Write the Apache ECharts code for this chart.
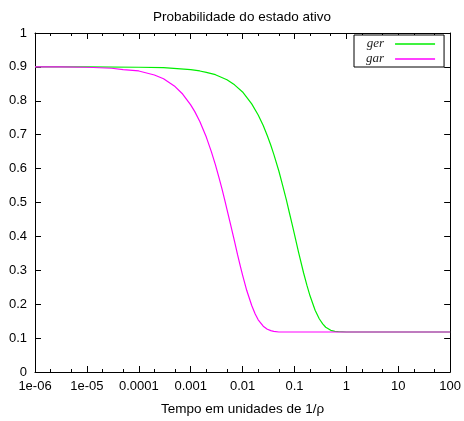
<!DOCTYPE html>
<html>
<head>
<meta charset="utf-8">
<script src="https://cdn.jsdelivr.net/npm/echarts@6/dist/echarts.min.js"></script>
<style>html,body{margin:0;padding:0;background:#fff}#c{width:464px;height:421px}</style>
</head>
<body>
<div id="c"></div>
<script>
// ---- data ----
const titleText = 'Probabilidade do estado ativo';
const xName = 'Tempo em unidades de 1/ρ';
const xTickValues = [1e-6, 1e-5, 1e-4, 1e-3, 1e-2, 1e-1, 1, 10, 100];
const xTickLabels = ['1e-06', '1e-05', '0.0001', '0.001', '0.01', '0.1', '1', '10', '100'];
const xMinorTicks = [2e-6, 5e-6, 2e-5, 5e-5, 2e-4, 5e-4, 2e-3, 5e-3, 2e-2, 5e-2, 0.2, 0.5, 2, 5, 20, 50];

const gerName = 'ger';
const gerT = [1e-6, 1e-5, 1e-4, 3e-4, 1e-3, 1.5e-3, 2e-3, 3e-3, 5e-3, 7e-3, 0.01, 0.015, 0.02, 0.025, 0.03, 0.035, 0.04, 0.05, 0.06, 0.07, 0.08, 0.09, 0.1, 0.12, 0.15, 0.175, 0.2, 0.25, 0.3, 0.35, 0.4, 0.5, 0.6, 0.7, 1, 10, 100];
const gerP = [0.900, 0.900, 0.899, 0.898, 0.892, 0.888, 0.884, 0.877, 0.862, 0.847, 0.826, 0.791, 0.758, 0.727, 0.697, 0.669, 0.642, 0.593, 0.547, 0.507, 0.469, 0.436, 0.406, 0.353, 0.292, 0.254, 0.224, 0.182, 0.157, 0.142, 0.132, 0.123, 0.120, 0.119, 0.118, 0.118, 0.118];

const garName = 'gar';
const garT = [1e-6, 3e-6, 1e-5, 3e-5, 5e-5, 1e-4, 2e-4, 3e-4, 5e-4, 7e-4, 1e-3, 1.2e-3, 1.5e-3, 2e-3, 2.5e-3, 3e-3, 3.5e-3, 4e-3, 4.5e-3, 5e-3, 6e-3, 7e-3, 8e-3, 9e-3, 0.01, 0.012, 0.015, 0.0175, 0.02, 0.025, 0.03, 0.035, 0.04, 0.05, 0.1, 1, 10, 100];
const garP = [0.900, 0.900, 0.899, 0.896, 0.892, 0.888, 0.876, 0.865, 0.842, 0.820, 0.788, 0.768, 0.739, 0.693, 0.650, 0.611, 0.574, 0.541, 0.509, 0.480, 0.429, 0.385, 0.346, 0.314, 0.286, 0.241, 0.196, 0.171, 0.154, 0.135, 0.126, 0.122, 0.120, 0.118, 0.118, 0.118, 0.118, 0.118];

// ---- chart ----
const font = 'Liberation Sans, Arial, sans-serif';
const pairs = (t, p) => t.map((v, i) => [v, p[i]]);
const labelFor = v => {
  const e = Math.round(Math.log10(v));
  const i = xTickValues.findIndex(x => Math.round(Math.log10(x)) === e);
  return i >= 0 ? xTickLabels[i] : '';
};

const baseX = {
  type: 'log', logBase: 10, min: 1e-6, max: 100,
  splitLine: {show: false}, minorTick: {show: false}
};
const chart = echarts.init(document.getElementById('c'), null, {renderer: 'canvas'});
chart.setOption({
  animation: false,
  backgroundColor: '#fff',
  title: {
    text: titleText, left: 237, top: 5, textAlign: 'center',
    textStyle: {fontFamily: font, fontSize: 13.5, fontWeight: 'normal', color: '#000'}
  },
  legend: {
    left: 354, top: 35, orient: 'vertical', align: 'right',
    backgroundColor: '#fff',
    borderColor: '#000', borderWidth: 1, borderRadius: 0,
    padding: [2, 9, 1, 12], itemGap: 1,
    itemWidth: 40, itemHeight: 1.5, icon: 'rect',
    textStyle: {fontFamily: 'Liberation Serif, DejaVu Serif, serif', fontStyle: 'italic', fontSize: 13, color: '#222', lineHeight: 14, padding: [0, 6, 0, 0]},
    data: [gerName, garName]
  },
  grid: {left: 35, right: 13, top: 33, bottom: 46, containLabel: false},
  xAxis: [
    Object.assign({}, baseX, {
      position: 'bottom', name: xName, nameLocation: 'middle', nameGap: 30,
      nameTextStyle: {fontFamily: font, fontSize: 13.5, color: '#000'},
      axisLine: {show: true, lineStyle: {color: '#000', width: 1}},
      axisTick: {show: true, inside: true, length: 6, customValues: xTickValues, lineStyle: {color: '#000'}},
      axisLabel: {show: true, customValues: xTickValues, formatter: labelFor, margin: 8,
        fontFamily: font, fontSize: 13, color: '#000'}
    }),
    Object.assign({}, baseX, {
      position: 'bottom',
      axisLine: {show: false},
      axisTick: {show: true, inside: true, length: 3, customValues: xMinorTicks, lineStyle: {color: '#000'}},
      axisLabel: {show: false}
    }),
    Object.assign({}, baseX, {
      position: 'top',
      axisLine: {show: true, lineStyle: {color: '#000', width: 1}},
      axisTick: {show: true, inside: true, length: 6, customValues: xTickValues, lineStyle: {color: '#000'}},
      axisLabel: {show: false}
    }),
    Object.assign({}, baseX, {
      position: 'top',
      axisLine: {show: false},
      axisTick: {show: true, inside: true, length: 3, customValues: xMinorTicks, lineStyle: {color: '#000'}},
      axisLabel: {show: false}
    })
  ],
  yAxis: [
    {
      type: 'value', min: 0, max: 1, interval: 0.1, position: 'left',
      splitLine: {show: false},
      axisLine: {show: true, lineStyle: {color: '#000', width: 1}},
      axisTick: {show: true, inside: true, length: 6, lineStyle: {color: '#000'}},
      axisLabel: {show: true, margin: 8, fontFamily: font, fontSize: 13, color: '#000',
        formatter: v => String(Math.round(v * 10) / 10)}
    },
    {
      type: 'value', min: 0, max: 1, interval: 0.1, position: 'right',
      splitLine: {show: false},
      axisLine: {show: true, lineStyle: {color: '#000', width: 1}},
      axisTick: {show: true, inside: true, length: 6, lineStyle: {color: '#000'}},
      axisLabel: {show: false}
    }
  ],
  series: [
    {
      name: gerName, type: 'line', xAxisIndex: 0, yAxisIndex: 0,
      data: pairs(gerT, gerP), showSymbol: false, symbol: 'none',
      smooth: false,
      itemStyle: {color: '#00ee00'},
      lineStyle: {color: '#00ee00', width: 1.2}
    },
    {
      name: garName, type: 'line', xAxisIndex: 0, yAxisIndex: 0,
      data: pairs(garT, garP), showSymbol: false, symbol: 'none',
      smooth: false,
      itemStyle: {color: '#ff00ff'},
      lineStyle: {color: '#ff00ff', width: 1.2}
    }
  ]
});
</script>
</body>
</html>
